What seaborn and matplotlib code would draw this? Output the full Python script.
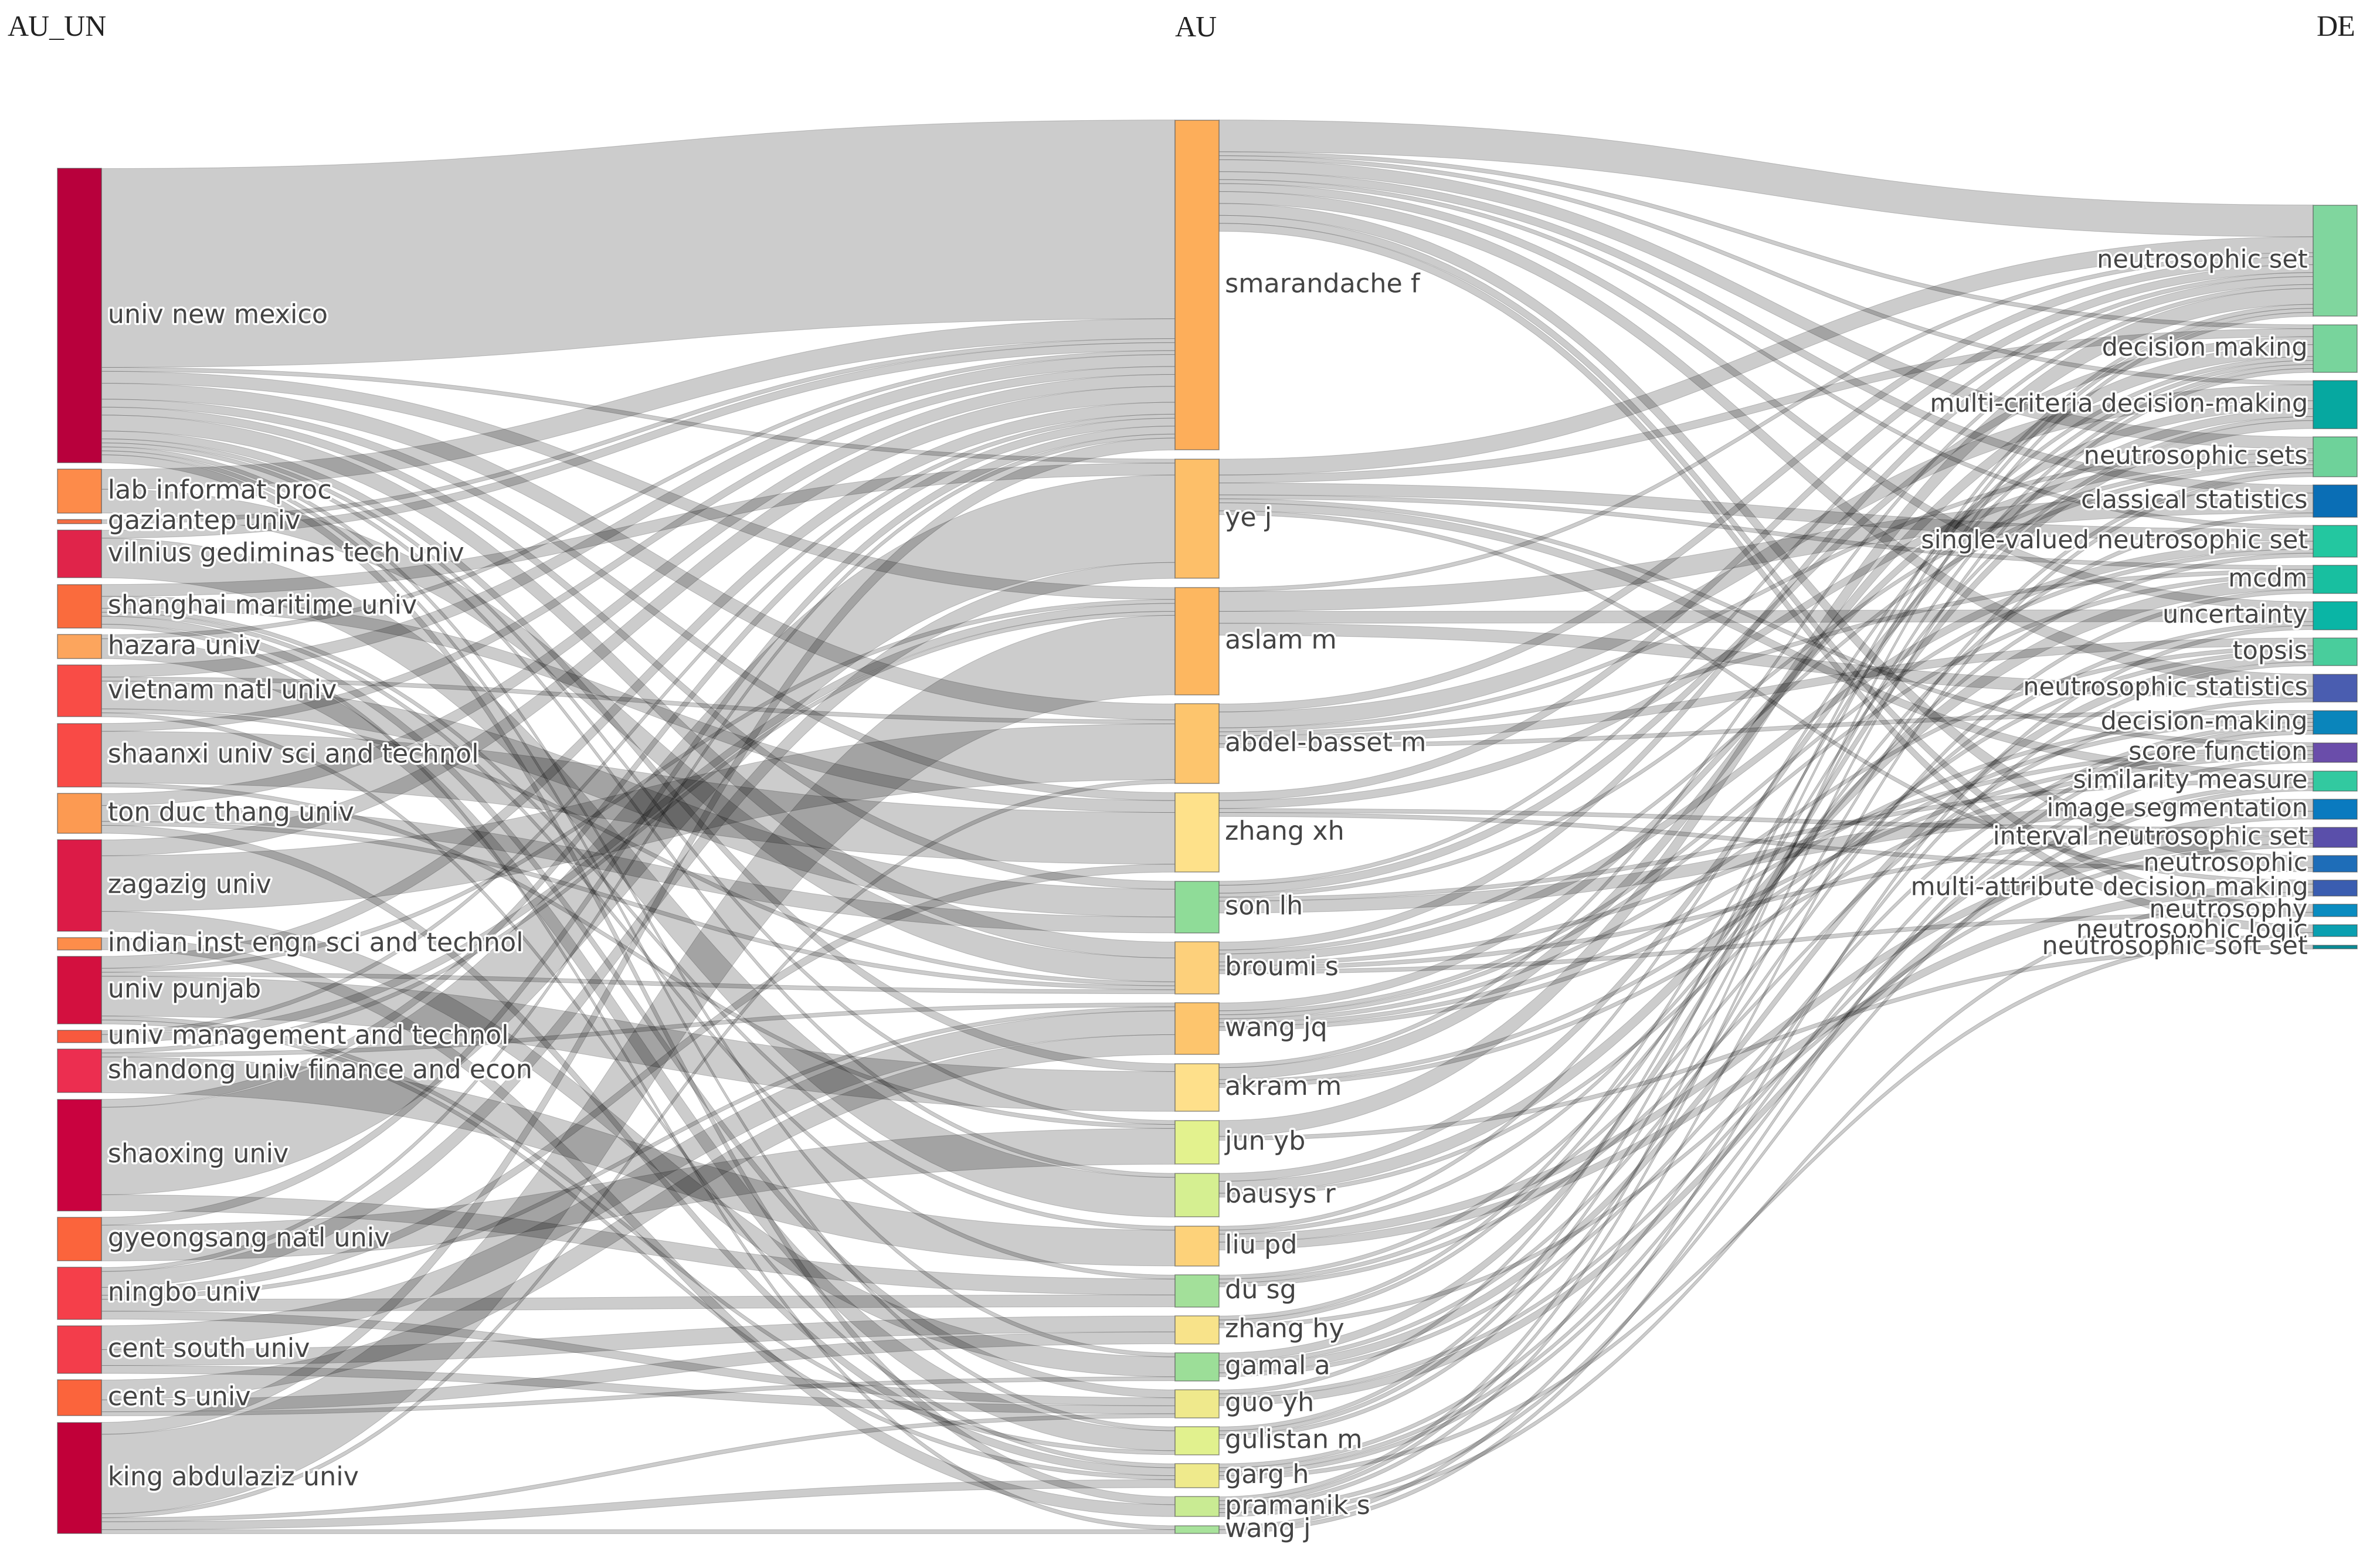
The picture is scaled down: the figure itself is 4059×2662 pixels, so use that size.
import matplotlib
matplotlib.use("Agg")
import matplotlib.pyplot as plt
import seaborn as sns
from matplotlib.path import Path
from matplotlib.patches import PathPatch
import matplotlib.patheffects as pe

# ---------------- data ----------------
au_un = ["univ new mexico", "lab informat proc", "gaziantep univ", "vilnius gediminas tech univ",
         "shanghai maritime univ", "hazara univ", "vietnam natl univ", "shaanxi univ sci and technol",
         "ton duc thang univ", "zagazig univ", "indian inst engn sci and technol", "univ punjab",
         "univ management and technol", "shandong univ finance and econ", "shaoxing univ",
         "gyeongsang natl univ", "ningbo univ", "cent south univ", "cent s univ", "king abdulaziz univ"]

au = ["smarandache f", "ye j", "aslam m", "abdel-basset m", "zhang xh", "son lh", "broumi s",
      "wang jq", "akram m", "jun yb", "bausys r", "liu pd", "du sg", "zhang hy", "gamal a",
      "guo yh", "gulistan m", "garg h", "pramanik s", "wang j"]

de = ["neutrosophic set", "decision making", "multi-criteria decision-making", "neutrosophic sets",
      "classical statistics", "single-valued neutrosophic set", "mcdm", "uncertainty", "topsis",
      "neutrosophic statistics", "decision-making", "score function", "similarity measure",
      "image segmentation", "interval neutrosophic set", "neutrosophic",
      "multi-attribute decision making", "neutrosophy", "neutrosophic logic", "neutrosophic soft set"]

# links AU_UN -> AU
un_au_src = (["univ new mexico"] * 13 + ["lab informat proc"] * 2 + ["gaziantep univ"]
             + ["vilnius gediminas tech univ"] * 2 + ["shanghai maritime univ"] * 6 + ["hazara univ"] * 2
             + ["vietnam natl univ"] * 5 + ["shaanxi univ sci and technol"] * 3 + ["ton duc thang univ"] * 4
             + ["zagazig univ"] * 3 + ["indian inst engn sci and technol"] + ["univ punjab"] * 6
             + ["univ management and technol"] * 2 + ["shandong univ finance and econ"] * 3
             + ["shaoxing univ"] * 3 + ["gyeongsang natl univ"] * 2 + ["ningbo univ"] * 6
             + ["cent south univ"] * 3 + ["cent s univ"] * 3 + ["king abdulaziz univ"] * 6)
un_au_dst = (["smarandache f", "ye j", "aslam m", "abdel-basset m", "zhang xh", "son lh", "broumi s",
              "akram m", "jun yb", "bausys r", "gamal a", "gulistan m", "pramanik s"]
             + ["smarandache f", "broumi s"] + ["smarandache f"]
             + ["smarandache f", "bausys r"]
             + ["ye j", "zhang xh", "liu pd", "du sg", "guo yh", "wang j"]
             + ["smarandache f", "gulistan m"]
             + ["smarandache f", "abdel-basset m", "son lh", "broumi s", "garg h"]
             + ["smarandache f", "zhang xh", "jun yb"]
             + ["smarandache f", "son lh", "broumi s", "garg h"]
             + ["smarandache f", "abdel-basset m", "gamal a"]
             + ["pramanik s"]
             + ["smarandache f", "aslam m", "broumi s", "akram m", "gulistan m", "garg h"]
             + ["smarandache f", "aslam m"]
             + ["aslam m", "wang jq", "liu pd"]
             + ["smarandache f", "ye j", "du sg"]
             + ["smarandache f", "jun yb"]
             + ["smarandache f", "ye j", "zhang xh", "wang jq", "du sg", "guo yh"]
             + ["wang jq", "zhang hy", "guo yh"]
             + ["wang jq", "zhang hy", "gamal a"]
             + ["smarandache f", "aslam m", "abdel-basset m", "guo yh", "garg h", "wang j"])
un_au_val = ([50, 1, 3, 4, 2, 2, 4, 2, 1, 1, 1, 1, 2]
             + [5, 6] + [1]
             + [2, 10]
             + [3, 3, 1, 1, 2, 1]
             + [1, 5]
             + [3, 1, 7, 1, 1]
             + [2, 13, 1]
             + [3, 4, 1, 2]
             + [4, 14, 5]
             + [3]
             + [3, 1, 1, 10, 1, 1]
             + [1, 2]
             + [1, 1, 9]
             + [2, 22, 4]
             + [2, 9]
             + [1, 4, 2, 1, 3, 2]
             + [6, 4, 2]
             + [5, 3, 1]
             + [3, 20, 1, 1, 2, 1])

# links AU -> DE
au_de_src = (["smarandache f"] * 11 + ["ye j"] * 7 + ["aslam m"] * 4 + ["abdel-basset m"] * 6
             + ["zhang xh"] * 4 + ["son lh"] * 5 + ["broumi s"] * 6 + ["wang jq"] * 6 + ["akram m"] * 4
             + ["jun yb"] * 2 + ["bausys r"] * 3 + ["liu pd"] * 4 + ["du sg"] * 3 + ["zhang hy"] * 3
             + ["gamal a"] * 4 + ["guo yh"] * 3 + ["gulistan m"] * 3 + ["garg h"] * 4
             + ["pramanik s"] * 5 + ["wang j"] * 2)
au_de_dst = (["neutrosophic set", "neutrosophic sets", "neutrosophic statistics", "classical statistics",
              "uncertainty", "neutrosophy", "neutrosophic logic", "neutrosophic",
              "single-valued neutrosophic set", "decision making", "multi-criteria decision-making"]
             + ["neutrosophic set", "single-valued neutrosophic set", "decision making", "similarity measure",
                "multi-attribute decision making", "mcdm", "score function"]
             + ["classical statistics", "neutrosophic statistics", "uncertainty", "neutrosophic set"]
             + ["multi-criteria decision-making", "neutrosophic set", "topsis", "neutrosophic sets", "mcdm",
                "decision-making"]
             + ["neutrosophic set", "neutrosophic sets", "neutrosophic", "interval neutrosophic set"]
             + ["image segmentation", "decision making", "neutrosophic set", "neutrosophic sets",
                "similarity measure"]
             + ["neutrosophic set", "single-valued neutrosophic set", "interval neutrosophic set",
                "neutrosophic sets", "score function", "neutrosophy"]
             + ["multi-criteria decision-making", "single-valued neutrosophic set", "decision-making",
                "score function", "mcdm", "topsis"]
             + ["decision making", "neutrosophic set", "decision-making", "score function"]
             + ["neutrosophic set", "neutrosophic soft set"]
             + ["multi-criteria decision-making", "mcdm", "topsis"]
             + ["decision making", "multi-attribute decision making", "single-valued neutrosophic set",
                "interval neutrosophic set"]
             + ["classical statistics", "neutrosophic statistics", "uncertainty"]
             + ["multi-criteria decision-making", "interval neutrosophic set", "decision making"]
             + ["multi-criteria decision-making", "topsis", "decision-making", "mcdm"]
             + ["image segmentation", "neutrosophic set", "similarity measure"]
             + ["neutrosophic set", "neutrosophic sets", "decision making"]
             + ["score function", "decision-making", "topsis", "neutrosophic logic"]
             + ["neutrosophic set", "neutrosophic sets", "similarity measure", "decision making",
                "multi-attribute decision making"]
             + ["decision-making", "uncertainty"])
au_de_val = ([8, 3, 3, 2, 2, 2, 2, 3, 1, 1, 1]
             + [4, 3, 2, 2, 1, 1, 1]
             + [5, 3, 3, 1]
             + [4, 2, 2, 1, 1, 1]
             + [2, 2, 1, 1]
             + [3, 2, 1, 1, 1]
             + [2, 2, 1, 1, 1, 1]
             + [2, 1, 1, 1, 1, 1]
             + [3, 1, 1, 1]
             + [4, 1]
             + [2, 3, 1]
             + [1, 2, 1, 2]
             + [1, 1, 1]
             + [1, 1, 1]
             + [2, 2, 1, 1]
             + [2, 1, 1]
             + [1, 1, 1]
             + [1, 1, 1, 1]
             + [1, 1, 1, 1, 1]
             + [1, 1])

column_titles = ["AU_UN", "AU", "DE"]

# ---------------- styles ----------------
au_un_colors = ["#B8003C", "#FD8B4A", "#F46D43", "#E0244A", "#FA6B3D", "#FCA55D", "#F94C46",
                "#F94A46", "#FC9A52", "#DC1B47", "#FD8D4A", "#D3103F", "#F8593E", "#EC2E50",
                "#C9023F", "#FB643C", "#F53F4A", "#F33D4B", "#FB643C", "#C10039"]
au_colors = ["#FDAE5A", "#FDBF69", "#FDB760", "#FDC56D", "#FEE18A", "#8FDC98", "#FDD07B",
             "#FDC56D", "#FEE08B", "#E3F28E", "#D5EF91", "#FDD27A", "#A3E09A", "#F8E38A",
             "#9CDE98", "#EFE98C", "#E1F18E", "#EFEA8C", "#C9EB93", "#A8E29B"]
de_colors = ["#80D69E", "#78D49C", "#06A8A0", "#6ED29A", "#0A6EB5", "#23C7A0", "#18BFA0",
             "#0AB5A5", "#49CD9C", "#4A5DB0", "#0A85BB", "#6A4DAA", "#32C9A0", "#0A7ABF",
             "#5A4FAA", "#1E6DB8", "#3A5DB0", "#0A8CC0", "#0A9FB0", "#0A8B95"]

# layout (in reference pixel space of 1568 x 1028)
W, H = 1568.0, 1028.0
col_x = [38.0, 774.0, 1524.0]
node_w = 29.0
col_top = [111.0, 79.0, 135.0]
col_bottom = [1010.0, 1010.0, 625.0]
mid_pad = 6.0

sns.set_theme(style="white")
plt.rcParams["font.family"] = ["DejaVu Sans"]

fig = plt.figure(figsize=(40.59, 26.62), dpi=100)
ax = fig.add_axes([0, 0, 1, 1])
ax.set_xlim(0, W)
ax.set_ylim(H, 0)
ax.axis("off")

columns = [au_un, au, de]
colors = [au_un_colors, au_colors, de_colors]
links = [(un_au_src, un_au_dst, un_au_val, 0), (au_de_src, au_de_dst, au_de_val, 1)]

# node values = max(in, out)
inflow = {}
outflow = {}
for src, dst, val, _ in links:
    for s, d, v in zip(src, dst, val):
        outflow[s] = outflow.get(s, 0) + v
        inflow[d] = inflow.get(d, 0) + v
values = [[max(inflow.get(n, 0), outflow.get(n, 0)) for n in col] for col in columns]

ky = (col_bottom[1] - col_top[1] - mid_pad * (len(au) - 1)) / sum(values[1])

pos = {}
for c, (col, vals) in enumerate(zip(columns, values)):
    pad = (col_bottom[c] - col_top[c] - ky * sum(vals)) / (len(col) - 1)
    y = col_top[c]
    for n, v in zip(col, vals):
        pos[(c, n)] = (y, v * ky)
        y += v * ky + pad

# links
curv = 0.5
for src, dst, val, c in links:
    idx = list(range(len(src)))
    out_off = {}
    in_off = {}
    src_y = {}
    for i in sorted(idx, key=lambda i: (src[i], pos[(c + 1, dst[i])][0])):
        s = src[i]
        o = out_off.get(s, 0.0)
        src_y[i] = pos[(c, s)][0] + o
        out_off[s] = o + val[i] * ky
    dst_y = {}
    for i in sorted(idx, key=lambda i: (dst[i], pos[(c, src[i])][0])):
        d = dst[i]
        o = in_off.get(d, 0.0)
        dst_y[i] = pos[(c + 1, d)][0] + o
        in_off[d] = o + val[i] * ky
    x0 = col_x[c] + node_w
    x1 = col_x[c + 1]
    xm0 = x0 + (x1 - x0) * curv
    xm1 = x1 - (x1 - x0) * curv
    for i in idx:
        w = val[i] * ky
        ys0, yt0 = src_y[i], dst_y[i]
        ys1, yt1 = ys0 + w, yt0 + w
        verts = [(x0, ys0), (xm0, ys0), (xm1, yt0), (x1, yt0),
                 (x1, yt1), (xm1, yt1), (xm0, ys1), (x0, ys1), (x0, ys0)]
        codes = [Path.MOVETO, Path.CURVE4, Path.CURVE4, Path.CURVE4,
                 Path.LINETO, Path.CURVE4, Path.CURVE4, Path.CURVE4, Path.CLOSEPOLY]
        ax.add_patch(PathPatch(Path(verts, codes), facecolor=(0, 0, 0, 0.2),
                               edgecolor=(0, 0, 0, 0.2), lw=0.7, zorder=1))

# nodes
halo = [pe.withStroke(linewidth=5, foreground="white")]
for c, col in enumerate(columns):
    tops = [pos[(c, n)][0] for n in col]
    hs = [pos[(c, n)][1] for n in col]
    ax.bar([col_x[c] + node_w / 2] * len(col), hs, bottom=tops, width=node_w,
           color=colors[c], edgecolor=(0.3, 0.3, 0.3, 0.55), linewidth=1.2, zorder=2)
    for n, t, h in zip(col, tops, hs):
        if c < 2:
            ax.text(col_x[c] + node_w + 4, t + h / 2, n, ha="left", va="center",
                    fontsize=32, color="#444444", zorder=3, path_effects=halo)
        else:
            ax.text(col_x[c] - 4, t + h / 2, n, ha="right", va="center",
                    fontsize=31, color="#444444", zorder=3, path_effects=halo)

# column titles
title_x = [5.0, 788.0, 1552.0]
title_ha = ["left", "center", "right"]
for t, x, ha in zip(column_titles, title_x, title_ha):
    ax.text(x, 19, t, ha=ha, va="center", fontsize=36, family="Liberation Serif", color="#222222")

fig.savefig("out.png", dpi=100, facecolor="white")
